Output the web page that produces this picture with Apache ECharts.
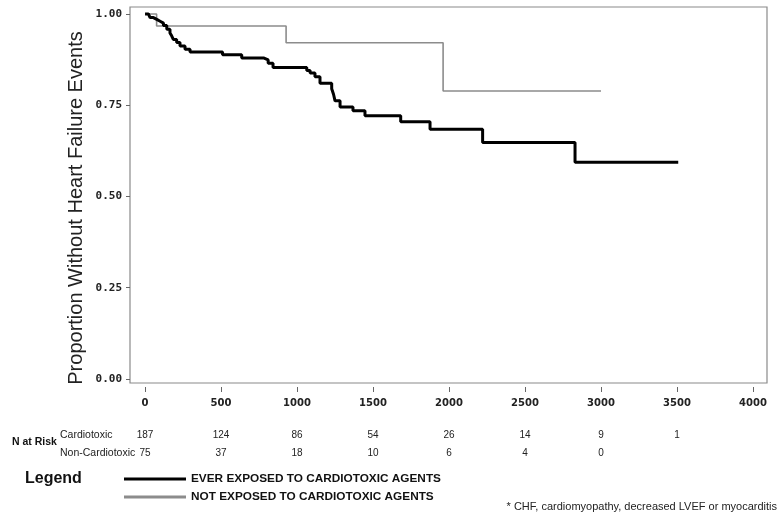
<!DOCTYPE html>
<html>
<head>
<meta charset="utf-8">
<script src="https://cdn.jsdelivr.net/npm/echarts@6/dist/echarts.min.js"></script>
<style>
html,body{margin:0;padding:0;background:#fff;}
#chart{width:783px;height:519px;}
</style>
</head>
<body>
<div id="chart"></div>
<script>
// Kaplan-Meier steps: [day, proportion without event]
const exposedCurve = [
  [0,1.0],[22,0.995],[33,0.99],[55,0.985],[77,0.98],[99,0.975],[121,0.968],[143,0.958],
  [164,0.948],[175,0.94],[186,0.93],[208,0.922],[230,0.912],[263,0.903],[296,0.896],
  [510,0.888],[636,0.879],[783,0.874],[810,0.865],[842,0.853],[1064,0.845],[1086,0.838],
  [1118,0.828],[1151,0.81],[1228,0.795],[1240,0.78],[1250,0.762],[1283,0.745],[1368,0.735],
  [1447,0.721],[1682,0.705],[1875,0.684],[2221,0.648],[2829,0.594],[3508,0.594]
];
const notExposedCurve = [
  [0,1.0],[76,0.967],[928,0.921],[1961,0.789],[3000,0.789]
];
const seriesNames = ['EVER EXPOSED TO CARDIOTOXIC AGENTS','NOT EXPOSED TO CARDIOTOXIC AGENTS'];
const xTicks = [0,500,1000,1500,2000,2500,3000,3500,4000];
const yTicks = [0,0.25,0.5,0.75,1.0];
const riskDays = [0,500,1000,1500,2000,2500,3000,3500];
const riskCardiotoxic = [187,124,86,54,26,14,9,1];
const riskNonCardiotoxic = [75,37,18,10,6,4,0];
const yTitle = 'Proportion Without Heart Failure Events';
const footnote = '* CHF, cardiomyopathy, decreased LVEF or myocarditis';

const chart = echarts.init(document.getElementById('chart'), null, {renderer:'canvas'});
const FONT = 'Liberation Sans, Arial, sans-serif';

chart.setOption({
  animation:false,
  backgroundColor:'#fff',
  grid:{left:130, top:7, right:16, bottom:136, show:true, borderColor:'#8a8a8a', borderWidth:1.2},
  xAxis:{
    type:'value', min:-99, max:4092, position:'bottom', offset:4,
    axisLine:{show:false, onZero:false},
    axisTick:{show:true, length:5, lineStyle:{color:'#666'}, customValues:xTicks},
    axisLabel:{customValues:xTicks, margin:11, fontFamily:'DejaVu Sans', fontWeight:'bold', fontSize:10, color:'#222',
      formatter:v=>String(v)},
    splitLine:{show:false}
  },
  yAxis:{
    type:'value', min:-0.011, max:1.019, position:'left',
    axisLine:{show:false, onZero:false},
    axisTick:{show:true, length:4, lineStyle:{color:'#666'}, customValues:yTicks},
    axisLabel:{customValues:yTicks, margin:8, fontFamily:'DejaVu Sans Mono', fontWeight:'bold', fontSize:11, color:'#222',
      formatter:v=>v.toFixed(2)},
    splitLine:{show:false}
  },
  legend:{
    orient:'vertical', left:124, top:472, padding:0, itemGap:4,
    itemWidth:62, itemHeight:3, icon:'rect',
    textStyle:{fontFamily:FONT, fontWeight:'bold', fontSize:11.8, color:'#111', lineHeight:14},
    data:seriesNames
  },
  series:[
    {name:seriesNames[0], type:'line', step:'end', data:exposedCurve, symbol:'none', showSymbol:false,
     lineStyle:{color:'#000', width:3}, itemStyle:{color:'#000'}, z:3},
    {name:seriesNames[1], type:'line', step:'end', data:notExposedCurve, symbol:'none', showSymbol:false,
     lineStyle:{color:'#8c8c8c', width:1.6}, itemStyle:{color:'#8c8c8c'}, z:2}
  ]
});

const g = [];
g.push({type:'text', x:76, y:208, rotation:Math.PI/2,
  style:{text:yTitle, fontFamily:FONT, fontSize:20, fill:'#222', textAlign:'center', textVerticalAlign:'middle'}});
g.push({type:'text', x:12, y:442, style:{text:'N at Risk', fontFamily:FONT, fontWeight:'bold', fontSize:10.5, fill:'#111', textVerticalAlign:'middle'}});
g.push({type:'text', x:60, y:435, style:{text:'Cardiotoxic', fontFamily:FONT, fontSize:10.5, fill:'#222', textVerticalAlign:'middle'}});
g.push({type:'text', x:60, y:453, style:{text:'Non-Cardiotoxic', fontFamily:FONT, fontSize:10.5, fill:'#222', textVerticalAlign:'middle'}});
riskCardiotoxic.forEach((n,i)=>{
  const px = chart.convertToPixel({xAxisIndex:0}, riskDays[i]);
  g.push({type:'text', x:px, y:435, style:{text:String(n), fontFamily:FONT, fontSize:10, fill:'#222', textAlign:'center', textVerticalAlign:'middle'}});
});
riskNonCardiotoxic.forEach((n,i)=>{
  const px = chart.convertToPixel({xAxisIndex:0}, riskDays[i]);
  g.push({type:'text', x:px, y:453, style:{text:String(n), fontFamily:FONT, fontSize:10, fill:'#222', textAlign:'center', textVerticalAlign:'middle'}});
});
g.push({type:'text', x:25, y:479, style:{text:'Legend', fontFamily:FONT, fontWeight:'bold', fontSize:16, fill:'#111', textVerticalAlign:'middle'}});
g.push({type:'text', x:777, y:507, style:{text:footnote, fontFamily:FONT, fontSize:11, fill:'#222', textAlign:'right', textVerticalAlign:'middle'}});
chart.setOption({graphic:g});
</script>
</body>
</html>
